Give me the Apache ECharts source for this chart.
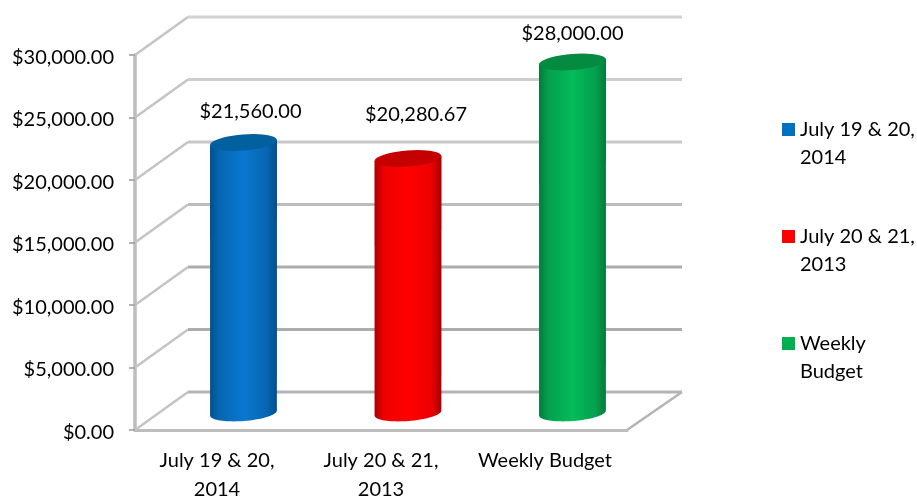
<!DOCTYPE html>
<html>
<head>
<meta charset="utf-8">
<script src="https://cdn.jsdelivr.net/npm/echarts@6/dist/echarts.min.js"></script>
<style>html,body{margin:0;padding:0;background:#fff}#c{width:917px;height:497px}</style>
</head>
<body>
<div id="c"></div>
<script>
var categories = ['July 19 & 20, 2014', 'July 20 & 21, 2013', 'Weekly Budget'];
var values = [21560.00, 20280.67, 28000.00];
var labels = ['$21,560.00', '$20,280.67', '$28,000.00'];
var tickValues = [0, 5000, 10000, 15000, 20000, 25000, 30000];
var axisLabels = ['July 19 & 20,\n2014', 'July 20 & 21,\n2013', 'Weekly Budget'];
var legendLabels = ['July 19 & 20,\n2014', 'July 20 & 21,\n2013', 'Weekly\nBudget'];

var colours = [
  {edge: '#04508c', soft: '#0666b2', mid: '#0a78d0', top: '#03609f', key: '#0070c0'},
  {edge: '#a80000', soft: '#ee0000', mid: '#ff0000', top: '#c40000', key: '#ff0000'},
  {edge: '#057a3a', soft: '#04a04e', mid: '#03bc5a', top: '#058a42', key: '#00b050'}
];
var labelNudge = [[7, -31], [8, -44], [0, -28]];
var depthX = 53, depthY = 38, font = 'Lato, "Open Sans", sans-serif';
var gridTints = ['#b4b4b4', '#adadad', '#adadad', '#bdbdbd', '#c8c8c8', '#cdcdcd', '#d2d2d2'];

function tilted(cx, cy, a, b, deg, from, to) {
  var pts = [], t = deg * Math.PI / 180, n = 40;
  for (var i = 0; i <= n; i++) {
    var u = from + (to - from) * i / n;
    var ex = a * Math.cos(u), ey = b * Math.sin(u);
    pts.push([cx + ex * Math.cos(t) - ey * Math.sin(t), cy + ex * Math.sin(t) + ey * Math.cos(t)]);
  }
  return pts;
}

function renderCylinder(idx) {
  return function (params, api) {
    var base = api.coord([api.value(0), 0]);
    var top = api.coord([api.value(0), api.value(1)]);
    var c = colours[idx];
    var cx = base[0] + 26.5 + idx * 0.5, a = 33.5, b = 8, tilt = -4.5;
    var by = base[1] - 17, ty = top[1] - 18;
    var lower = tilted(cx, by, a, b, tilt, Math.PI, 0);
    var bodyPts = [[cx - a, ty + 2.6]].concat(lower).concat([[cx + a, ty - 2.6]]);
    return {
      type: 'group',
      children: [
        {type: 'polygon', shape: {points: bodyPts}, style: {fill: new echarts.graphic.LinearGradient(0, 0, 1, 0, [
          {offset: 0, color: c.edge}, {offset: 0.14, color: c.soft},
          {offset: 0.5, color: c.mid},
          {offset: 0.84, color: c.soft}, {offset: 1, color: c.edge}
        ])}},
        {type: 'polygon', shape: {points: tilted(cx, ty, a, b, tilt, 0, Math.PI * 2)}, style: {fill: c.top}},
        {type: 'text', style: {text: labels[idx], x: cx + labelNudge[idx][0], y: ty + labelNudge[idx][1],
          align: 'center', verticalAlign: 'middle', fill: '#000', font: '20px ' + font}}
      ]
    };
  };
}

function renderWall(params, api) {
  var p = api.coord([0, api.value(0)]);
  var g = params.coordSys;
  var y = p[1], i = params.dataIndex;
  var children = [
    {type: 'polyline', shape: {points: [[g.x, y], [g.x + depthX, y - depthY]]}, style: {stroke: '#c4c4c4', lineWidth: 2.5, fill: null}},
    {type: 'polyline', shape: {points: [[g.x + depthX, y - depthY], [g.x + g.width + depthX + 2, y - depthY]]}, style: {stroke: gridTints[i], lineWidth: 3.2, fill: null}}
  ];
  if (i === 0) {
    children.push({type: 'polyline', shape: {points: [[g.x + g.width, y], [g.x + g.width + depthX + 2, y - depthY]]}, style: {stroke: '#b4b4b4', lineWidth: 2.5, fill: null}});
  }
  return {type: 'group', children: children};
}

var series = [{
  type: 'custom', name: 'wall', silent: true, z: 1,
  data: tickValues.map(function (v) { return [v]; }),
  encode: {y: 0},
  renderItem: renderWall
}];
categories.forEach(function (name, i) {
  series.push({
    type: 'custom', name: name, z: 3,
    itemStyle: {color: colours[i].key},
    data: [[name, values[i]]],
    encode: {x: 0, y: 1},
    renderItem: renderCylinder(i)
  });
});

var chart = echarts.init(document.getElementById('c'), null, {renderer: 'canvas'});
chart.setOption({
  animation: false,
  backgroundColor: '#fff',
  grid: {left: 135, right: 290, top: 55, bottom: 67, outerBoundsMode: 'none'},
  legend: {
    data: categories, orient: 'vertical', left: 782, top: 87.5, padding: 0,
    icon: 'rect', itemWidth: 13, itemHeight: 13, itemGap: 23,
    selectedMode: false,
    formatter: function (n) { return '\n' + legendLabels[categories.indexOf(n)]; },
    textStyle: {color: '#000', fontFamily: font, fontSize: 20, lineHeight: 28}
  },
  xAxis: {
    type: 'category', data: categories,
    axisLine: {lineStyle: {color: '#bdbdbd', width: 3}},
    axisTick: {length: 7, alignWithLabel: false, lineStyle: {color: '#9a9a9a', width: 1.5}},
    axisLabel: {color: '#000', fontFamily: font, fontSize: 20, lineHeight: 29, margin: 16, interval: 0,
      formatter: function (n) { return axisLabels[categories.indexOf(n)]; }}
  },
  yAxis: {
    type: 'value', min: 0, max: 30000, interval: 5000,
    axisLine: {show: true, lineStyle: {color: '#bdbdbd', width: 3.5}},
    axisTick: {show: true, length: 6, lineStyle: {color: '#9a9a9a', width: 1.5}},
    splitLine: {show: false},
    axisLabel: {color: '#000', fontFamily: font, fontSize: 20, margin: 21, verticalAlign: 'top', lineHeight: 5,
      formatter: function (v) { return '$' + v.toLocaleString('en-US', {minimumFractionDigits: 2, maximumFractionDigits: 2}); }}
  },
  series: series
});
</script>
</body>
</html>
